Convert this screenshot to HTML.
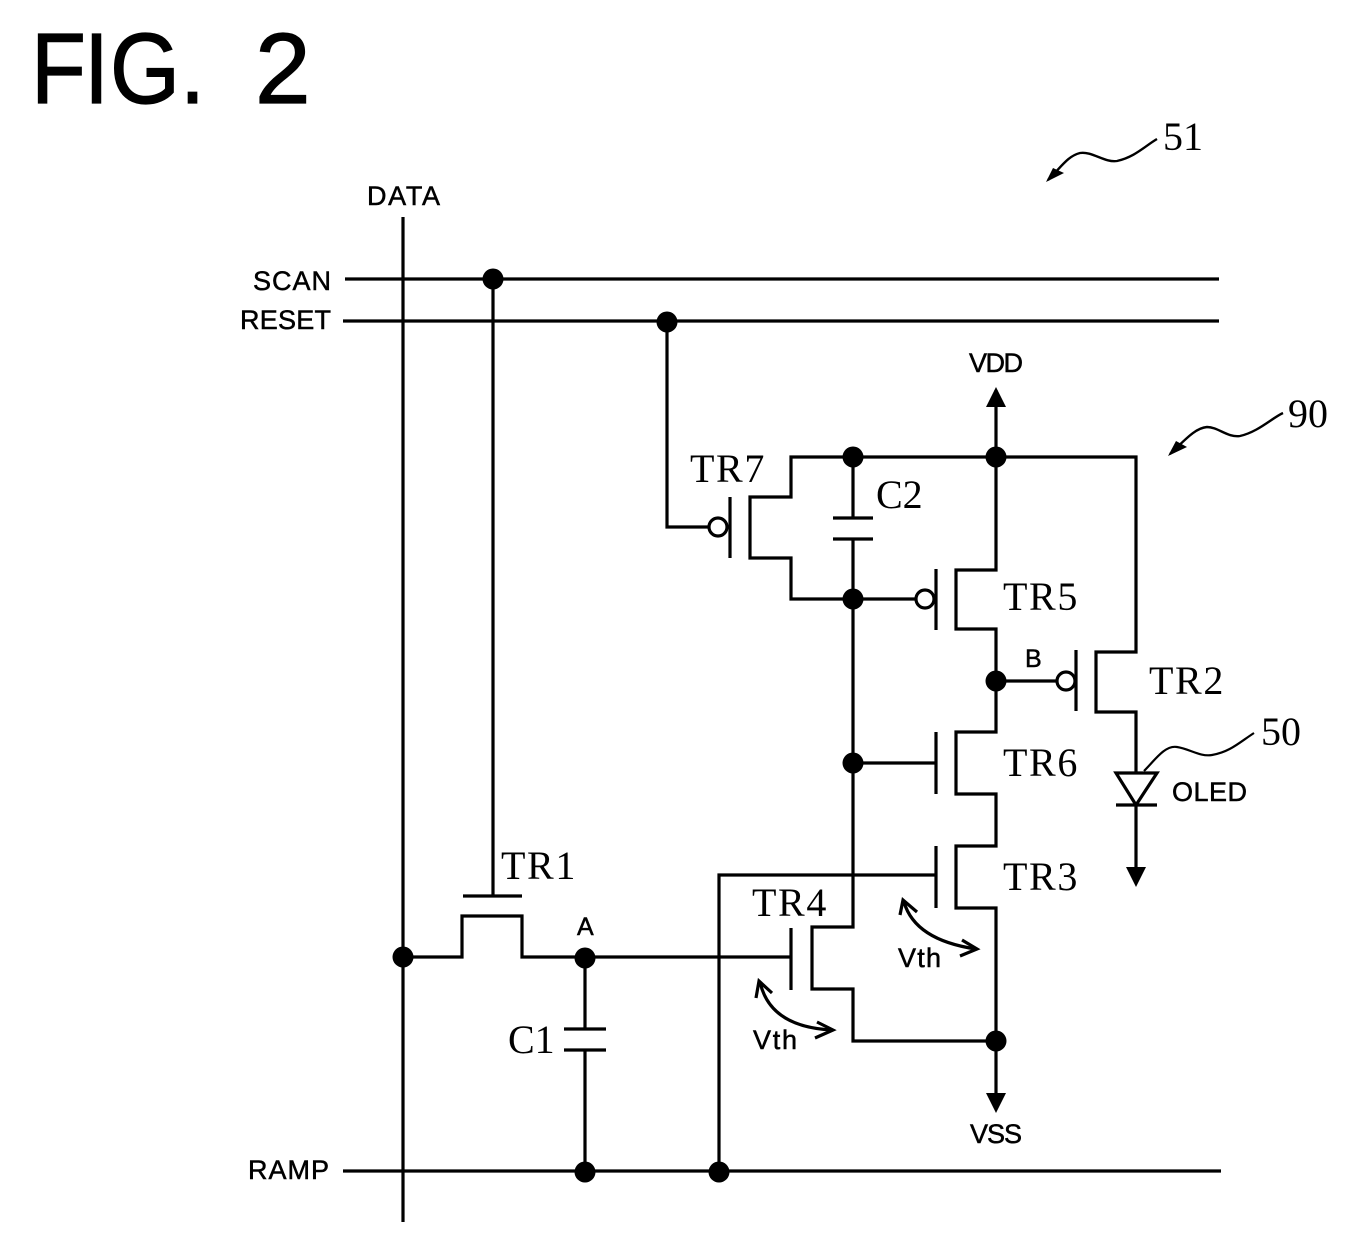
<!DOCTYPE html>
<html>
<head>
<meta charset="utf-8">
<style>
html,body{margin:0;padding:0;background:#fff}
svg{display:block}
.s{font-family:"Liberation Sans",sans-serif;fill:#000;stroke:#000;stroke-width:.5}
.r{font-family:"Liberation Serif",serif;fill:#000;font-size:40px;letter-spacing:1.6px}
.n{font-family:"Liberation Serif",serif;fill:#000;font-size:40px}
.l{font-size:27px}
.f{font-family:"Liberation Sans",sans-serif;fill:#000;font-size:100px;stroke:#000;stroke-width:1.2}
</style>
</head>
<body>
<svg width="1360" height="1240" viewBox="0 0 1360 1240" xmlns="http://www.w3.org/2000/svg">
<rect width="1360" height="1240" fill="#fff"/>
<text class="f" transform="translate(31,103) scale(.9,1)">F</text>
<text class="f" transform="translate(84,103) scale(.9,1)">I</text>
<text class="f" transform="translate(110,103) scale(.9,1)">G</text>
<text class="f" transform="translate(180,103) scale(.9,1)">.</text>
<text class="f" transform="translate(255,103)">2</text>
<text class="n" x="1163" y="150">51</text>
<text class="n" x="1288" y="427">90</text>
<text class="n" x="1261" y="745">50</text>
<text class="s l" x="367" y="205" textLength="73">DATA</text>
<text class="s l" x="253" y="290" textLength="78">SCAN</text>
<text class="s l" x="240" y="329" textLength="91">RESET</text>
<text class="s l" x="248" y="1179" textLength="81">RAMP</text>
<text class="s l" x="969" y="372" textLength="54">VDD</text>
<text class="s l" x="970" y="1143" textLength="52">VSS</text>
<text class="s l" x="1172" y="801" textLength="75">OLED</text>
<text class="s" x="1025" y="667" font-size="25">B</text>
<text class="s" x="577" y="935" font-size="25">A</text>
<text class="s l" x="753" y="1049" textLength="44">Vth</text>
<text class="s l" x="898" y="967" textLength="43">Vth</text>
<text class="r" x="501" y="879">TR1</text>
<text class="r" x="690" y="482">TR7</text>
<text class="n" x="876" y="508">C2</text>
<text class="r" x="1003" y="610">TR5</text>
<text class="r" x="1149" y="694">TR2</text>
<text class="r" x="1003" y="776">TR6</text>
<text class="r" x="1003" y="890">TR3</text>
<text class="r" x="752" y="916">TR4</text>
<text class="n" x="508" y="1053">C1</text>
<g fill="none" stroke="#000" stroke-width="3.2">
<path d="M403 217V1222"/>
<path d="M345 279H1219M343 321H1219M343 1171H1221"/>
<path d="M493 279V896M463 896H522"/>
<path d="M403 957H462V916H522V957H791"/>
<path d="M585 957V1029M564 1029H606M564 1050H606M585 1050V1172"/>
<path d="M667 322V527H708"/>
<path d="M730 497V558"/>
<path d="M916 599H791V558H750V497H791V457H1136V652H1096V712H1136V773"/>
<path d="M853 457V518M833 518H873M833 539H873M853 539V927H812V989H853V1041H996"/>
<path d="M936 569V630"/>
<path d="M996 390V570H956V629H996V732H956V794H996V846H956V908H996V1102"/>
<path d="M1003 681H1056M1076 650V711"/>
<path d="M1116 805H1157M1136 805V868"/>
<path d="M853 763H936M936 732V794"/>
<path d="M936 846V908M719 1171V875H936"/>
<path d="M791 928V990"/>
<path d="M1144 771C1155 760 1165 745 1177 747C1190 749 1200 757 1212 755C1230 752 1240 742 1254 733" stroke-width="2.2"/>
<path d="M1157 139C1145 146 1135 157 1117 161C1105 163 1092 151 1080 153C1068 156 1062 166 1048 180" stroke-width="2.4"/>
<path d="M1283 413C1272 418 1258 432 1240 436C1228 438 1218 427 1207 427C1195 428 1185 440 1170 454" stroke-width="2.4"/>
<path d="M904 902Q915 940 976 949"/>
<path d="M900 915L903 900L917 912M962 940L977 949L960 956"/>
<path d="M760 982Q770 1027 832 1030"/>
<path d="M756 998L759 981L772 993M817 1022L833 1030L815 1038"/>
</g>
<g fill="#fff" stroke="#000" stroke-width="3.2">
<circle cx="718" cy="527" r="9"/>
<circle cx="925" cy="599" r="9"/>
<circle cx="1066" cy="681" r="9"/>
</g>
<path d="M1116 773H1157L1136 805Z" fill="#fff" stroke="#000" stroke-width="3.2"/>
<g fill="#000">
<circle cx="493" cy="279" r="10.5"/>
<circle cx="667" cy="322" r="10.5"/>
<circle cx="853" cy="457" r="10.5"/>
<circle cx="996" cy="457" r="10.5"/>
<circle cx="853" cy="599" r="10.5"/>
<circle cx="996" cy="681" r="10.5"/>
<circle cx="853" cy="763" r="10.5"/>
<circle cx="403" cy="957" r="10.5"/>
<circle cx="585" cy="958" r="10.5"/>
<circle cx="996" cy="1041" r="10.5"/>
<circle cx="585" cy="1172" r="10.5"/>
<circle cx="719" cy="1172" r="10.5"/>
<path d="M996 387L986 407H1006Z"/>
<path d="M996 1113L986 1093H1006Z"/>
<path d="M1136 887L1126 867H1146Z"/>
<path d="M1046 182L1053 168L1064 173Z"/>
<path d="M1168 456L1176 441L1187 447Z"/>
</g>
</svg>
</body>
</html>
